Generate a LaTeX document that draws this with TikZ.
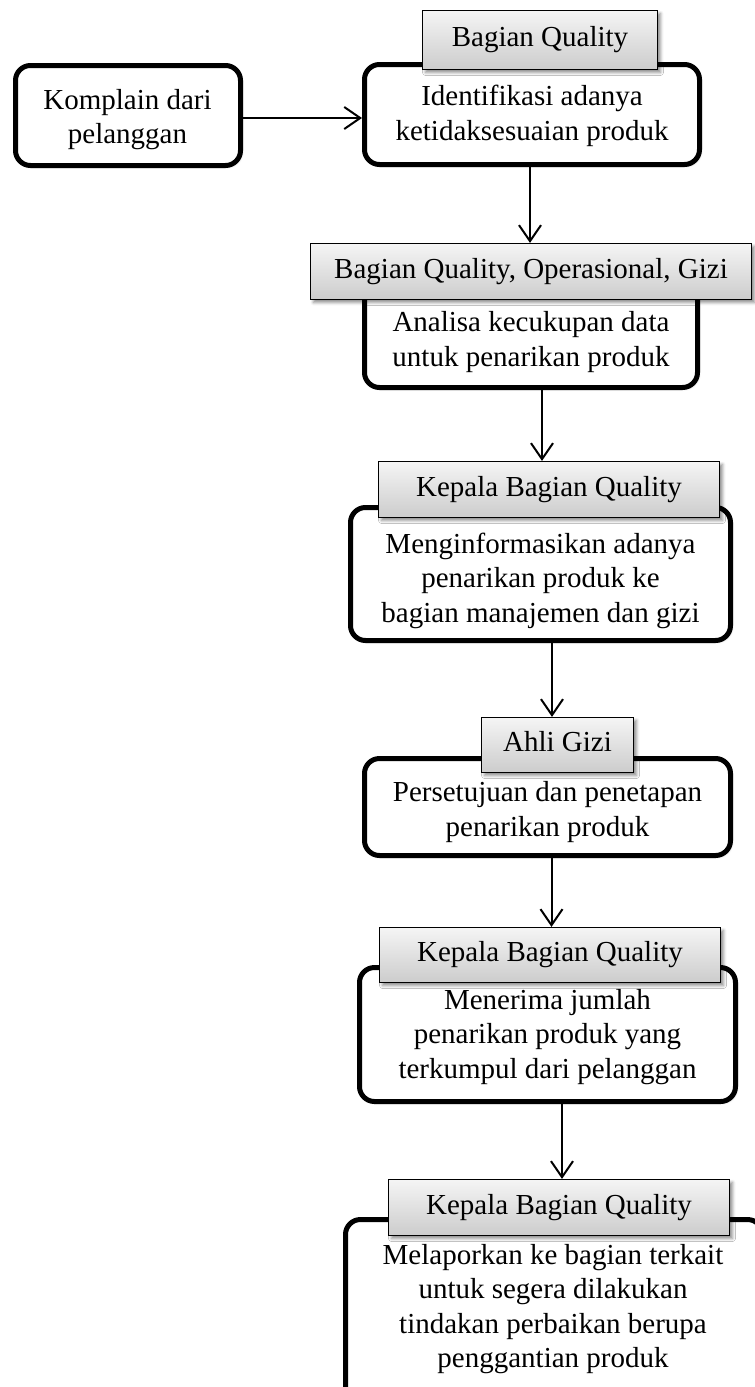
\documentclass[tikz,border=0pt]{standalone}
\usepackage{fontspec}
\setmainfont{Liberation Serif}
\usetikzlibrary{arrows.meta,shadows.blur}

\tikzset{
  % rounded process step with a heavy outline
  stepbox/.style={draw=black, line width=5pt, rounded corners=15pt, fill=white,
    inner sep=0pt,
    blur shadow={shadow xshift=1.5pt, shadow yshift=-1.5pt, shadow blur radius=2pt, shadow opacity=25}},
  % grey responsible-party tab sitting on top of a step
  rolebox/.style={draw=black, line width=1.2pt, top color=gray!8, bottom color=gray!40,
    inner sep=0pt, font=\fontsize{29pt}{34.5pt}\selectfont,
    blur shadow={shadow xshift=3pt, shadow yshift=-3pt, shadow blur radius=3pt, shadow opacity=45}},
  steptext/.style={align=center, inner sep=0pt, font=\fontsize{29pt}{34.5pt}\selectfont},
  flow/.style={line width=2pt, -{Straight Barb[length=16pt,width=22pt]}},
}

\begin{document}
\begin{tikzpicture}
\useasboundingbox (0,0) rectangle (755pt,-1387pt);
\clip (0,0) rectangle (755pt,-1387pt);

% ---- process steps ----
\node[stepbox, minimum width=225pt, minimum height=100pt] (b1) at (128pt,-115.5pt) {};
\node[stepbox, minimum width=335pt, minimum height=100pt] (b2) at (532pt,-114.5pt) {};
\node[stepbox, minimum width=333pt, minimum height=105pt] (b3) at (531pt,-335pt) {};
\node[stepbox, minimum width=380pt, minimum height=133pt] (b4) at (540.5pt,-574pt) {};
\node[stepbox, minimum width=366pt, minimum height=97pt]  (b5) at (547.5pt,-807pt) {};
\node[stepbox, minimum width=376pt, minimum height=134pt] (b6) at (547.5pt,-1034.5pt) {};
\node[stepbox, minimum width=417pt, minimum height=183pt] (b7) at (554pt,-1311pt) {};

% ---- step texts ----
\node[steptext] (t1) at (127.5pt,-119.5pt) {\strut Komplain dari\\\strut pelanggan};
\node[steptext] (t2) at (532pt,-116pt) {\strut Identifikasi adanya\\\strut ketidaksesuaian produk};
\node[steptext] (t3) at (531pt,-342pt) {\strut Analisa kecukupan data\\\strut untuk penarikan produk};
\node[steptext] (t4) at (540.5pt,-581pt) {\strut Menginformasikan adanya\\\strut penarikan produk ke\\\strut bagian manajemen dan gizi};
\node[steptext] (t5) at (547.5pt,-812pt) {\strut Persetujuan dan penetapan\\\strut penarikan produk};
\node[steptext] (t6) at (547.5pt,-1037pt) {\strut Menerima jumlah\\\strut penarikan produk yang\\\strut terkumpul dari pelanggan};
\node[steptext] (t7) at (553pt,-1309pt) {\strut Melaporkan ke bagian terkait\\\strut untuk segera dilakukan\\\strut tindakan perbaikan berupa\\\strut penggantian produk};

% ---- responsible parties ----
\node[rolebox, minimum width=235pt, minimum height=59pt] (h1) at (540pt,-40pt) {\strut Bagian Quality};
\node[rolebox, minimum width=441pt, minimum height=56pt] (h2) at (531pt,-271.5pt) {\strut Bagian Quality, Operasional, Gizi};
\node[rolebox, minimum width=341pt, minimum height=56pt] (h3) at (549pt,-489.5pt) {\strut Kepala Bagian Quality};
\node[rolebox, minimum width=152pt, minimum height=55pt] (h4) at (557.5pt,-745pt) {\strut Ahli Gizi};
\node[rolebox, minimum width=341pt, minimum height=55pt] (h5) at (550pt,-955pt) {\strut Kepala Bagian Quality};
\node[rolebox, minimum width=341pt, minimum height=56pt] (h6) at (559pt,-1207.5pt) {\strut Kepala Bagian Quality};

% ---- connectors ----
\coordinate (r1) at (0,-118pt);
\coordinate (x2) at (530pt,0);
\coordinate (x3) at (542pt,0);
\coordinate (x4) at (552pt,0);
\coordinate (x5) at (551.5pt,0);
\coordinate (x6) at (562pt,0);

\draw[flow] (b1.east |- r1) -- (b2.west |- r1);
\draw[flow] (b2.south -| x2) -- (h2.north -| x2);
\draw[flow] (b3.south -| x3) -- (h3.north -| x3);
\draw[flow] (b4.south -| x4) -- (h4.north -| x4);
\draw[flow] (b5.south -| x5) -- (h5.north -| x5);
\draw[flow] (b6.south -| x6) -- (h6.north -| x6);
\end{tikzpicture}
\end{document}
